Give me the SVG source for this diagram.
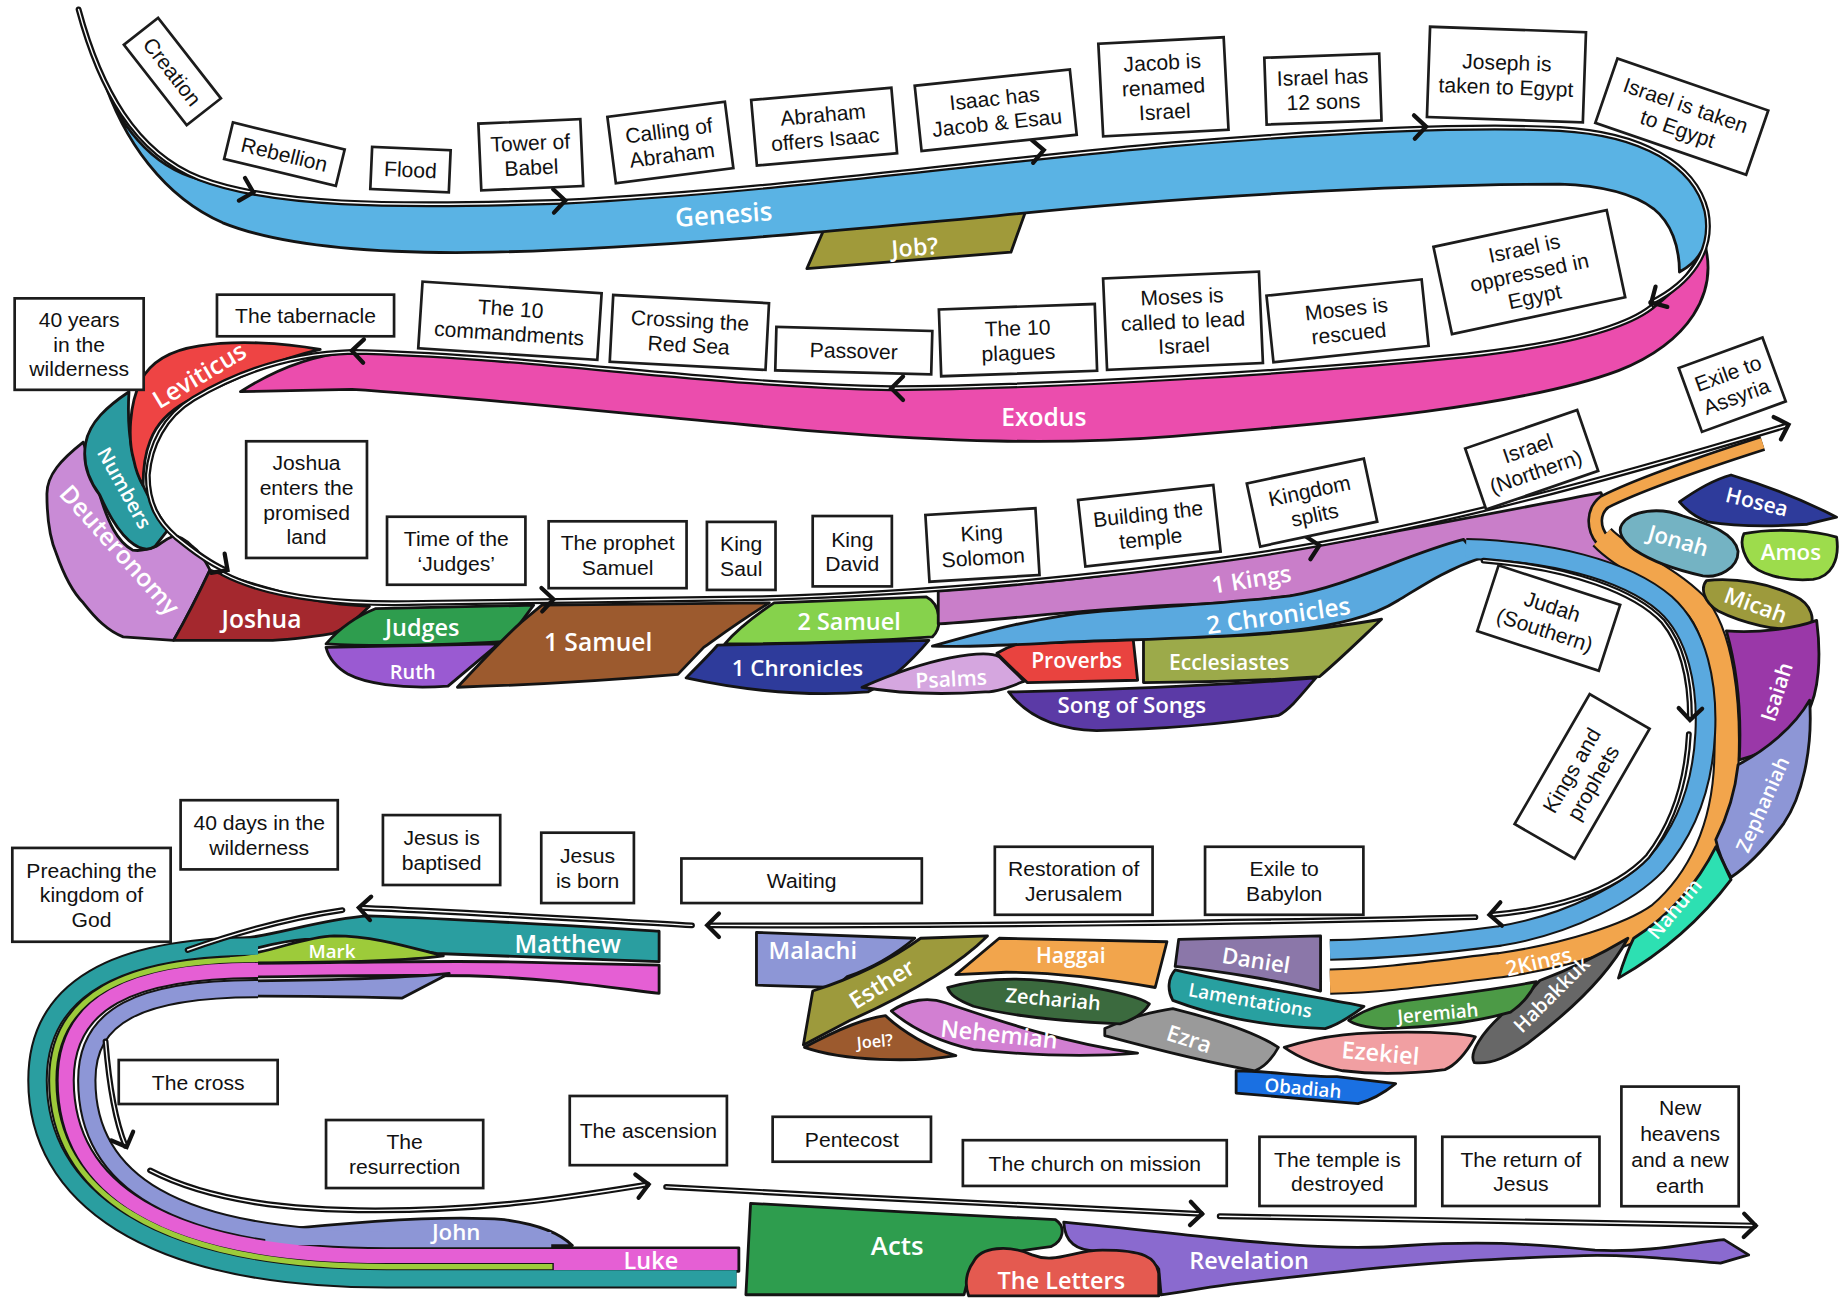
<svg xmlns="http://www.w3.org/2000/svg" width="1839" height="1299" viewBox="0 0 1839 1299">
<defs>
<style>
.box{fill:#fff;stroke:#1c1c1c;stroke-width:2.3}
.bt{font-family:"Liberation Sans",Arial,sans-serif;font-size:18px;fill:#111;text-anchor:middle}
.bk{stroke:#141414;stroke-width:2.4;stroke-linejoin:round}
.lb{font-family:"Open Sans","DejaVu Sans",sans-serif;font-weight:600;fill:#fff;text-anchor:middle}
.tl{fill:none;stroke:#111;stroke-width:5;stroke-linecap:round}
.tw{fill:none;stroke:#fff;stroke-width:1.2;stroke-linecap:round}
.ch{fill:none;stroke:#111;stroke-width:3.6;stroke-linecap:round;stroke-linejoin:miter}
.ab{fill:none;stroke:#141414;stroke-linecap:butt}
.ac{fill:none;stroke-linecap:butt}
</style>
<path id="chev" d="M -10,-10 L 0,0 L -10,10"/>
<path id="L1" d="M 67,8 C 85,75 115,130 170,152 C 230,175 330,177 480,172 C 650,164 850,136 1000,123 C 1120,113 1250,106 1330,110 C 1400,114 1445,140 1455,180 C 1462,215 1440,242 1408,258"/>
<path id="L2" d="M 1408,262 C 1385,280 1330,294 1250,303 C 1100,318 900,330 760,331 C 600,328 450,303 300,300 C 240,302 195,322 165,340 C 140,355 128,380 126,405 C 126,430 135,445 150,458 C 165,470 178,480 192,486"/>
<path id="L3" d="M 190,489 C 230,510 290,516 360,514 C 450,512 560,512 650,510 C 800,506 950,490 1050,476 C 1200,455 1350,415 1523,363"/>
<path id="L4" d="M 1265,478 C 1340,484 1395,505 1418,530 C 1436,552 1441,585 1441,612"/>
<path id="L5" d="M 1440,626 C 1438,665 1428,700 1405,730 C 1375,762 1320,776 1272,780"/>
<path id="L6" d="M 1258,782 C 1100,786 800,790 605,789"/>
<path id="L7" d="M 590,789 C 500,784 400,778 308,774"/>
<path id="L8" d="M 292,776 C 250,782 200,796 160,810"/>
<path id="L9" d="M 90,888 C 93,925 98,955 107,977"/>
<path id="L10" d="M 128,998 C 180,1025 250,1032 320,1032 C 420,1032 490,1020 552,1010"/>
<path id="L11" d="M 568,1012 C 720,1020 900,1030 1024,1035"/>
<path id="L12" d="M 1040,1037 C 1200,1040 1350,1043 1496,1045"/>
</defs>
<rect width="1839" height="1299" fill="#fff"/>
<g transform="scale(1.1728)">

<!-- ============ OLD TESTAMENT BOOKS ============ -->
<g id="exodus">
<path class="bk" fill="#eb4dad" d="M 1453,206 C 1466,250 1440,292 1380,316 C 1300,346 1150,360 1000,372 C 900,380 800,376 700,368 C 550,355 400,338 300,332 L 205,334 C 230,318 262,303 300,300 C 450,303 600,328 760,331 C 900,330 1100,318 1250,303 C 1330,294 1385,280 1410,262 C 1432,245 1446,228 1453,206 Z"/>
<text class="lb" x="890" y="356" dy=".35em" font-size="21">Exodus</text>
</g>
<g id="job">
<path class="bk" fill="#a09a3a" d="M 705,190 L 876,176 L 862,215 L 688,229 Z"/>
<text class="lb" x="780" y="211" dy=".35em" font-size="20" transform="rotate(-4,780,211)">Job?</text>
</g>
<g id="genesis">
<path class="bk" fill="#5ab3e4" d="M 87,64 C 100,105 128,142 170,153 C 230,175 330,177 480,172 C 650,164 850,136 1000,123 C 1120,113 1250,106 1330,110 C 1400,114 1445,140 1455,180 C 1460,205 1450,222 1432,232 C 1432,210 1425,190 1410,178 C 1390,163 1360,158 1330,157 C 1200,157 1000,168 850,184 C 700,198 550,212 420,215 C 320,217 240,210 190,190 C 140,168 105,120 87,64 Z"/>
<text class="lb" x="617" y="183" dy=".35em" font-size="22" transform="rotate(-4,617,183)">Genesis</text>
</g>
<g id="deuteronomy">
<path class="bk" fill="#c98bd6" d="M 71,377 C 52,392 40,405 40,421 C 40,440 42,458 48,472 C 55,492 62,505 71,514 C 82,528 92,538 105,543 L 148,546 C 160,525 170,505 179,486 C 175,478 170,470 164,466 C 158,460 152,457 148,457 C 140,460 137,464 133,466 C 125,469 118,470 113,469 C 100,462 92,445 85,422 C 80,405 76,392 71,377 Z"/>
<text class="lb" x="102" y="469" dy=".35em" font-size="21" transform="rotate(48,102,469)">Deuteronomy</text>
</g>
<g id="numbers">
<path class="bk" fill="#2a9aa0" d="M 110,334 C 92,346 76,360 73,378 C 70,395 76,410 85,422 C 93,440 100,452 110,461 C 118,468 126,470 132,466 L 143,452 C 138,442 130,432 122,414 C 112,392 108,365 110,334 Z"/>
<text class="lb" x="106" y="416" dy=".35em" font-size="17" transform="rotate(61,106,416)">Numbers</text>
</g>
<g id="leviticus">
<path class="bk" fill="#ee4444" d="M 273,298 C 240,292 200,290 170,295 C 150,298 130,305 120,325 C 110,345 109,375 114,392 C 116,402 119,409 122,414 C 122,400 124,386 128,376 C 134,360 145,350 160,342 C 190,328 230,308 273,298 Z"/>
<text class="lb" x="170" y="320" dy=".35em" font-size="21" transform="rotate(-31,170,320)">Leviticus</text>
</g>
<g id="joshua">
<path class="bk" fill="#a4282e" d="M 179,486 C 200,494 230,502 256,509 C 275,514 295,516 315,517 C 302,530 292,537 284,540 C 260,544 240,546 227,546 L 148,546 C 160,525 170,505 179,486 Z"/>
<text class="lb" x="223" y="528" dy=".35em" font-size="21">Joshua</text>
</g>
<g id="ruth">
<path class="bk" fill="#9a5ad2" d="M 278,552 L 425,549 L 382,585 C 340,588 310,582 297,575 C 285,568 280,560 278,552 Z"/>
<text class="lb" x="352" y="573" dy=".35em" font-size="17">Ruth</text>
</g>
<g id="judges">
<path class="bk" fill="#2e9d4e" d="M 320,519 L 455,516 L 432,547 C 380,550 330,552 278,549 C 290,535 305,525 320,519 Z"/>
<text class="lb" x="360" y="535" dy=".35em" font-size="20">Judges</text>
</g>
<g id="samuel1">
<path class="bk" fill="#9c5a2e" d="M 462,516 L 656,514 C 630,530 610,545 600,552 L 578,575 C 520,580 450,584 390,586 C 410,565 428,545 445,530 Z"/>
<text class="lb" x="510" y="548" dy=".35em" font-size="21">1 Samuel</text>
</g>
<g id="chronicles1">
<path class="bk" fill="#2e3b9b" d="M 612,550 L 792,546 C 776,565 760,580 740,590 C 690,594 640,590 585,578 C 595,568 605,558 612,550 Z"/>
<text class="lb" x="680" y="570" dy=".35em" font-size="19">1 Chronicles</text>
</g>
<g id="samuel2">
<path class="bk" fill="#86d24c" d="M 660,514 L 790,509 C 802,515 804,535 795,543 C 740,547 680,549 618,549 C 630,535 645,524 660,514 Z"/>
<text class="lb" x="724" y="530" dy=".35em" font-size="20">2 Samuel</text>
</g>
<g id="kings1">
<path class="bk" fill="#c97ec9" d="M 800,504 C 900,497 980,486 1050,476 C 1150,462 1260,440 1365,420 L 1370,432 C 1358,445 1362,462 1378,474 C 1395,484 1405,490 1412,497 C 1390,490 1330,472 1255,466 C 1225,472 1195,486 1165,496 C 1120,508 1060,514 1000,516 C 920,520 860,528 800,532 Z"/>
<text class="lb" x="1067" y="494" dy=".35em" font-size="20" transform="rotate(-9,1067,494)">1 Kings</text>
</g>
<g id="song">
<path class="bk" fill="#5b3aa6" d="M 860,590 C 950,588 1050,584 1122,578 C 1110,592 1100,605 1090,610 C 1040,618 980,622 935,623 C 900,622 875,610 860,590 Z"/>
<text class="lb" x="965" y="601" dy=".35em" font-size="19">Song of Songs</text>
</g>
<g id="psalms">
<path class="bk" fill="#d5a6df" d="M 735,586 C 760,575 790,565 810,561 C 830,557 845,556 852,560 C 860,568 868,575 873,581 C 860,586 850,590 840,590 C 810,592 770,592 735,586 Z"/>
<text class="lb" x="811" y="579" dy=".35em" font-size="18" transform="rotate(-3,811,579)">Psalms</text>
</g>
<g id="proverbs">
<path class="bk" fill="#e9433f" d="M 850,557 C 865,548 880,545 900,545 L 966,543 L 970,580 L 876,582 C 868,575 858,565 850,557 Z"/>
<text class="lb" x="918" y="563" dy=".35em" font-size="18">Proverbs</text>
</g>
<g id="ecclesiastes">
<path class="bk" fill="#9caa4a" d="M 975,543 C 1050,545 1120,538 1178,528 C 1160,545 1145,560 1125,577 C 1080,580 1030,582 975,582 Z"/>
<text class="lb" x="1048" y="565" dy=".35em" font-size="18">Ecclesiastes</text>
</g>

<!-- 2 Kings (orange) and 2 Chronicles (blue) arcs -->
<g id="kings2">
<path class="ab" stroke-width="13.5" d="M 1503,378 C 1450,395 1400,412 1368,428 C 1358,436 1358,450 1366,460"/>
<path class="ab" stroke-width="22.5" d="M 1366,458 C 1385,478 1420,490 1445,515 C 1468,540 1474,600 1472,650 C 1470,705 1450,750 1415,780 C 1390,798 1335,815 1279,823 C 1220,830 1180,836 1134,837"/>
<path class="ac" stroke="#f2a54c" stroke-width="9" d="M 1503,378 C 1450,395 1400,412 1368,428 C 1358,436 1358,450 1366,460"/>
<path class="ac" stroke="#f2a54c" stroke-width="19" d="M 1366,458 C 1385,478 1420,490 1445,515 C 1468,540 1474,600 1472,650 C 1470,705 1450,750 1415,780 C 1390,798 1335,815 1279,823 C 1220,830 1180,836 1134,837"/>
<text class="lb" x="1312" y="820" dy=".35em" font-size="18" transform="rotate(-13,1312,820)">2Kings</text>
</g>
<g id="chronicles2">
<path class="ab" stroke-width="18.5" d="M 1250,468 C 1320,470 1385,485 1420,515 C 1448,540 1456,585 1454,625 C 1452,665 1440,705 1412,737 C 1390,760 1340,788 1279,798 C 1220,806 1180,809 1134,810"/>
<path class="bk" fill="#5aa9df" d="M 795,551 C 840,538 890,525 940,521 C 1000,517 1060,513 1100,508 C 1150,500 1200,472 1248,460 L 1262,476 C 1232,486 1212,500 1192,512 C 1170,526 1140,533 1100,538 C 1030,545 960,545 900,548 C 860,550 825,552 795,551 Z"/>
<path class="ac" stroke="#5aa9df" stroke-width="15" d="M 1250,468 C 1320,470 1385,485 1420,515 C 1448,540 1456,585 1454,625 C 1452,665 1440,705 1412,737 C 1390,760 1340,788 1279,798 C 1220,806 1180,809 1134,810"/>
<text class="lb" x="1090" y="525" dy=".35em" font-size="21" transform="rotate(-8,1090,525)">2 Chronicles</text>
</g>

<!-- prophets on the right -->
<g id="hosea">
<path class="bk" fill="#2e3b9b" d="M 1432,428 C 1450,415 1465,408 1476,405 C 1506,414 1541,428 1566,441 L 1541,447 C 1511,449 1481,449 1456,445 C 1446,441 1438,435 1432,428 Z"/>
<text class="lb" x="1498" y="428" dy=".35em" font-size="18" transform="rotate(14,1498,428)">Hosea</text>
</g>
<g id="jonah">
<path class="bk" fill="#74b3c3" d="M 1383,447 C 1391,435 1415,432 1435,440 C 1460,448 1479,455 1482,470 C 1482,485 1465,493 1452,491 C 1429,486 1409,479 1394,469 C 1383,461 1379,453 1383,447 Z"/>
<text class="lb" x="1431" y="461" dy=".35em" font-size="19" transform="rotate(16,1431,461)">Jonah</text>
</g>
<g id="amos">
<path class="bk" fill="#9ddc4c" d="M 1487,455 C 1512,450 1547,452 1566,458 C 1569,478 1561,492 1546,494 C 1521,496 1498,489 1491,479 C 1485,469 1484,461 1487,455 Z"/>
<text class="lb" x="1527" y="471" dy=".35em" font-size="19">Amos</text>
</g>
<g id="micah">
<path class="bk" fill="#9d9a3c" d="M 1455,495 C 1480,492 1510,498 1530,508 C 1545,515 1549,530 1541,536 C 1515,539 1485,531 1465,521 C 1452,513 1450,501 1455,495 Z"/>
<text class="lb" x="1497" y="516" dy=".35em" font-size="19" transform="rotate(20,1497,516)">Micah</text>
</g>
<g id="isaiah">
<path class="bk" fill="#9a38a8" d="M 1472,538 C 1500,540 1530,536 1549,529 C 1553,560 1551,590 1541,608 C 1526,630 1506,642 1483,648 C 1485,610 1481,570 1472,538 Z"/>
<text class="lb" x="1515" y="590" dy=".35em" font-size="18" transform="rotate(-72,1515,590)">Isaiah</text>
</g>
<g id="zephaniah">
<path class="bk" fill="#8d96d6" d="M 1482,652 C 1505,640 1530,620 1543,597 C 1546,640 1536,680 1521,702 C 1506,722 1491,738 1476,748 C 1469,736 1465,726 1463,716 C 1471,700 1479,680 1482,652 Z"/>
<text class="lb" x="1503" y="686" dy=".35em" font-size="17" transform="rotate(-66,1503,686)">Zephaniah</text>
</g>
<g id="nahum">
<path class="bk" fill="#2de0b2" d="M 1463,722 C 1468,732 1472,742 1476,750 C 1452,782 1422,810 1380,834 C 1384,821 1388,810 1393,800 C 1424,780 1448,752 1463,722 Z"/>
<text class="lb" x="1428" y="775" dy=".35em" font-size="17" transform="rotate(-50,1428,775)">Nahum</text>
</g>
<g id="habakkuk">
<path class="bk" fill="#676767" d="M 1388,800 C 1372,830 1342,860 1302,890 C 1287,900 1272,908 1257,906 C 1252,898 1264,880 1282,864 C 1298,852 1306,844 1313,836 C 1340,826 1366,813 1388,800 Z"/>
<text class="lb" x="1323" y="848" dy=".35em" font-size="17" transform="rotate(-45,1323,848)">Habakkuk</text>
</g>

<!-- lower OT books -->
<g id="obadiah">
<path class="bk" fill="#1a70e2" d="M 1054,913 C 1080,913 1110,918 1140,918 L 1190,924 C 1180,932 1170,938 1158,941 C 1120,938 1085,935 1054,932 Z"/>
<text class="lb" x="1111" y="928" dy=".35em" font-size="16" transform="rotate(5,1111,928)">Obadiah</text>
</g>
<g id="ezekiel">
<path class="bk" fill="#f19fa2" d="M 1095,893 C 1130,882 1160,880 1200,880 C 1230,880 1250,882 1258,884 C 1250,898 1242,908 1232,912 C 1200,916 1170,916 1145,913 C 1120,908 1105,900 1095,893 Z"/>
<text class="lb" x="1177" y="898" dy=".35em" font-size="20" transform="rotate(5,1177,898)">Ezekiel</text>
</g>
<g id="jeremiah">
<path class="bk" fill="#4c9a46" d="M 1150,870 C 1165,860 1178,856 1200,853 C 1240,848 1280,843 1310,837 C 1305,848 1297,857 1288,863 C 1260,871 1220,876 1180,877 C 1165,876 1155,874 1150,870 Z"/>
<text class="lb" x="1226" y="864" dy=".35em" font-size="16" transform="rotate(-5,1226,864)">Jeremiah</text>
</g>
<g id="ezra">
<path class="bk" fill="#9a9a9a" d="M 942,877 C 962,868 985,862 1000,860 C 1040,870 1070,880 1090,893 C 1085,902 1078,910 1070,913 C 1030,906 990,896 942,883 Z"/>
<text class="lb" x="1014" y="886" dy=".35em" font-size="19" transform="rotate(18,1014,886)">Ezra</text>
</g>
<g id="lamentations">
<path class="bk" fill="#28a0a0" d="M 1002,827 C 1050,838 1100,846 1163,858 C 1150,868 1140,874 1130,877 C 1080,875 1040,868 1000,853 C 995,844 996,834 1002,827 Z"/>
<text class="lb" x="1066" y="853" dy=".35em" font-size="16" transform="rotate(10,1066,853)">Lamentations</text>
</g>
<g id="daniel">
<path class="bk" fill="#8b77a9" d="M 1005,801 L 1126,798 L 1126,845 C 1090,836 1040,828 1002,824 Z"/>
<text class="lb" x="1071" y="819" dy=".35em" font-size="19" transform="rotate(9,1071,819)">Daniel</text>
</g>
<g id="nehemiah">
<path class="bk" fill="#d27fd2" d="M 760,862 C 775,852 792,850 806,855 C 850,870 910,890 970,898 C 920,902 870,899 830,895 C 800,888 776,876 760,862 Z"/>
<text class="lb" x="852" y="882" dy=".35em" font-size="20" transform="rotate(6,852,882)">Nehemiah</text>
</g>
<g id="zechariah">
<path class="bk" fill="#3b6a3e" d="M 808,842 C 840,833 880,833 920,840 C 950,845 972,850 980,856 C 975,864 965,870 955,873 C 910,871 860,866 830,858 C 815,852 810,848 808,842 Z"/>
<text class="lb" x="898" y="852" dy=".35em" font-size="17" transform="rotate(5,898,852)">Zechariah</text>
</g>
<g id="haggai">
<path class="bk" fill="#f2a54c" d="M 852,800 L 995,803 L 985,842 C 940,834 900,829 858,829 L 815,831 Z"/>
<text class="lb" x="913" y="815" dy=".35em" font-size="18">Haggai</text>
</g>
<g id="malachi">
<path class="bk" fill="#8d96d6" d="M 645,795 L 780,800 C 762,815 742,826 722,833 L 712,842 L 645,840 Z"/>
<text class="lb" x="693" y="811" dy=".35em" font-size="20">Malachi</text>
</g>
<g id="esther">
<path class="bk" fill="#9d9a3c" d="M 785,800 L 842,798 C 812,828 765,852 725,870 L 685,891 L 693,845 C 727,834 760,818 785,800 Z"/>
<text class="lb" x="752" y="839" dy=".35em" font-size="20" transform="rotate(-32,752,839)">Esther</text>
</g>
<g id="joel">
<path class="bk" fill="#9c5a2e" d="M 686,893 C 718,876 738,868 755,866 C 770,880 792,893 815,900 C 780,906 720,905 686,893 Z"/>
<text class="lb" x="746" y="888" dy=".35em" font-size="14" transform="rotate(-5,746,888)">Joel?</text>
</g>

<!-- ============ NEW TESTAMENT ============ -->
<g id="gospels">
<g class="ab">
<path stroke-width="17.5" d="M 220,807 C 98,807 32,843 32,921 C 32,1018 123,1090 330,1090 L 628,1090"/>
<path stroke-width="8" d="M 220,818 C 105,818 45,850 45,921 C 45,1014 130,1080 330,1080 L 471,1080"/>
<path stroke-width="15.5" d="M 220,827 C 110,827 56,855 56,921 C 56,1011 135,1071 330,1071 L 628,1071"/>
<path stroke-width="16.5" d="M 220,843 C 118,843 74,866 74,921 C 74,1005 145,1057 330,1057 L 470,1057"/>
</g>
<path class="bk" fill="#2a9ea0" d="M 190,802 C 230,800 270,784 314,781 C 400,784 480,789 562,794 L 562,820 C 500,818 430,815 372,813 C 330,806 290,800 260,801 C 230,803 210,813 190,813 Z"/>
<path class="bk" fill="#9dcb3a" d="M 195,815 C 230,814 255,799 285,798 C 320,798 350,808 378,815 C 350,819 300,821 195,821 Z"/>
<path class="bk" fill="#e55fd4" d="M 195,821.5 C 300,821 400,818 470,821 L 562,823 L 562,847 C 520,842 470,834 400,832 C 300,831 250,833 195,833 Z"/>
<path class="bk" fill="#8d96d6" d="M 195,836.5 C 280,836 345,834 383,830 L 343,851 C 300,850 250,849 195,849.5 Z"/>
<path class="bk" fill="#e55fd4" d="M 471,1064 L 630,1064 L 630,1084 L 471,1084 Z"/>
<path class="bk" fill="#8d96d6" d="M 225,1063 L 225,1050 C 300,1042 380,1036 430,1040 C 460,1044 478,1052 488,1062 Z"/>
<g class="ac">
<path stroke="#2a9ea0" stroke-width="14" d="M 220,807 C 98,807 32,843 32,921 C 32,1018 123,1090 330,1090 L 628,1090"/>
<path stroke="#9dcb3a" stroke-width="4.5" d="M 220,818 C 105,818 45,850 45,921 C 45,1014 130,1080 330,1080 L 471,1080"/>
<path stroke="#e55fd4" stroke-width="12" d="M 220,827 C 110,827 56,855 56,921 C 56,1011 135,1071 330,1071 L 628,1071"/>
<path stroke="#8d96d6" stroke-width="13" d="M 220,843 C 118,843 74,866 74,921 C 74,1005 145,1057 330,1057 L 470,1057"/>
</g>
<g id="matthew"><text class="lb" x="484" y="805" dy=".35em" font-size="21">Matthew</text></g>
<g id="mark"><text class="lb" x="283" y="811" dy=".35em" font-size="16">Mark</text></g>
<g id="john"><text class="lb" x="389" y="1051" dy=".35em" font-size="19">John</text></g>
<g id="luke"><text class="lb" x="555" y="1075" dy=".35em" font-size="20">Luke</text></g>
</g>
<g id="revelation">
<path class="bk" fill="#8a6acf" d="M 907,1042 C 960,1047 1000,1052 1040,1056 C 1100,1062 1150,1066 1200,1062 C 1260,1058 1300,1060 1360,1066 C 1410,1068 1440,1060 1470,1057 L 1491,1070 L 1467,1077 C 1420,1073 1380,1069 1340,1071 C 1280,1073 1240,1075 1200,1079 C 1150,1083 1100,1089 1050,1095 C 1020,1099 1000,1103 990,1104 L 988,1082 C 980,1070 950,1066 935,1067 C 918,1066 908,1060 907,1042 Z"/>
<text class="lb" x="1065" y="1075" dy=".35em" font-size="20">Revelation</text>
</g>
<g id="acts">
<path class="bk" fill="#2e9d4e" d="M 640,1026 C 720,1031 820,1036 900,1040 C 909,1046 907,1058 896,1063 C 862,1067 842,1072 828,1080 L 822,1104 L 636,1104 Z"/>
<text class="lb" x="765" y="1062" dy=".35em" font-size="22">Acts</text>
</g>
<g id="letters">
<path class="bk" fill="#e45a50" d="M 830,1076 C 836,1063 860,1061 880,1070 C 900,1078 915,1066 940,1066 C 975,1066 986,1072 988,1086 L 988,1105 L 826,1105 C 822,1095 824,1084 830,1076 Z"/>
<text class="lb" x="905" y="1092" dy=".35em" font-size="20">The Letters</text>
</g>

<!-- ============ CONNECTORS (timeline) ============ -->
<g id="connectors">
<use href="#L1" class="tl"/><use href="#L1" class="tw"/>
<use href="#L2" class="tl"/><use href="#L2" class="tw"/>
<use href="#L3" class="tl"/><use href="#L3" class="tw"/>
<use href="#L4" class="tl"/><use href="#L4" class="tw"/>
<use href="#L5" class="tl"/><use href="#L5" class="tw"/>
<use href="#L6" class="tl"/><use href="#L6" class="tw"/>
<use href="#L7" class="tl"/><use href="#L7" class="tw"/>
<use href="#L8" class="tl"/><use href="#L8" class="tw"/>
<use href="#L9" class="tl"/><use href="#L9" class="tw"/>
<use href="#L10" class="tl"/><use href="#L10" class="tw"/>
<use href="#L11" class="tl"/><use href="#L11" class="tw"/>
<use href="#L12" class="tl"/><use href="#L12" class="tw"/>
<use href="#chev" class="ch" transform="translate(216,164) rotate(15)"/>
<use href="#chev" class="ch" transform="translate(482,171) rotate(-2)"/>
<use href="#chev" class="ch" transform="translate(890,128) rotate(-5)"/>
<use href="#chev" class="ch" transform="translate(1216,108) rotate(-2)"/>
<use href="#chev" class="ch" transform="translate(1408,258) rotate(150)"/>
<use href="#chev" class="ch" transform="translate(300,299) rotate(182)"/>
<use href="#chev" class="ch" transform="translate(760,331) rotate(180)"/>
<use href="#chev" class="ch" transform="translate(194,486) rotate(35)"/>
<use href="#chev" class="ch" transform="translate(472,511) rotate(-2)"/>
<use href="#chev" class="ch" transform="translate(1125,465) rotate(-12)"/>
<use href="#chev" class="ch" transform="translate(1525,362) rotate(-18)"/>
<use href="#chev" class="ch" transform="translate(1441,614) rotate(92)"/>
<use href="#chev" class="ch" transform="translate(1270,780) rotate(176)"/>
<use href="#chev" class="ch" transform="translate(603,789) rotate(180)"/>
<use href="#chev" class="ch" transform="translate(306,774) rotate(183)"/>
<use href="#chev" class="ch" transform="translate(108,978) rotate(68)"/>
<use href="#chev" class="ch" transform="translate(553,1010) rotate(-8)"/>
<use href="#chev" class="ch" transform="translate(1025,1035) rotate(2)"/>
<use href="#chev" class="ch" transform="translate(1497,1045) rotate(1)"/>
</g>

<!-- ============ EVENT BOXES ============ -->
<g id="e-creation" transform="translate(147,61) rotate(52)"><rect class="box" x="-43.5" y="-18.5" width="87" height="37"/><text class="bt" y="6.5">Creation</text></g>
<g id="e-rebellion" transform="translate(242.5,131.5) rotate(13.6)"><rect class="box" x="-49" y="-16" width="98" height="32"/><text class="bt" y="6.5">Rebellion</text></g>
<g id="e-flood" transform="translate(350,144.6) rotate(2.5)"><rect class="box" x="-33.5" y="-18" width="67" height="36"/><text class="bt" y="6.5">Flood</text></g>
<g id="e-babel" transform="translate(452.6,132) rotate(-2.5)"><rect class="box" x="-43.5" y="-28.5" width="87" height="57"/><text class="bt"><tspan x="0" y="-4">Tower of</tspan><tspan x="0" y="17">Babel</tspan></text></g>
<g id="e-calling" transform="translate(571.6,121.5) rotate(-7.3)"><rect class="box" x="-50.5" y="-28.5" width="101" height="57"/><text class="bt"><tspan x="0" y="-4">Calling of</tspan><tspan x="0" y="17">Abraham</tspan></text></g>
<g id="e-offers" transform="translate(702.7,108) rotate(-5)"><rect class="box" x="-60" y="-28" width="120" height="56"/><text class="bt"><tspan x="0" y="-4">Abraham</tspan><tspan x="0" y="17">offers Isaac</tspan></text></g>
<g id="e-isaac" transform="translate(849,94) rotate(-6)"><rect class="box" x="-66.5" y="-28" width="133" height="56"/><text class="bt"><tspan x="0" y="-4">Isaac has</tspan><tspan x="0" y="17">Jacob &amp; Esau</tspan></text></g>
<g id="e-jacob" transform="translate(992,74) rotate(-3)"><rect class="box" x="-53.5" y="-39.5" width="107" height="79"/><text class="bt"><tspan x="0" y="-14.5">Jacob is</tspan><tspan x="0" y="6.5">renamed</tspan><tspan x="0" y="27.5">Israel</tspan></text></g>
<g id="e-sons" transform="translate(1128,76) rotate(-2)"><rect class="box" x="-49" y="-28.5" width="98" height="57"/><text class="bt"><tspan x="0" y="-4">Israel has</tspan><tspan x="0" y="17">12 sons</tspan></text></g>
<g id="e-joseph" transform="translate(1284.5,63.6) rotate(2)"><rect class="box" x="-66.5" y="-38.5" width="133" height="77"/><text class="bt"><tspan x="0" y="-4">Joseph is</tspan><tspan x="0" y="17">taken to Egypt</tspan></text></g>
<g id="e-taken" transform="translate(1434,99.5) rotate(19)"><rect class="box" x="-68" y="-29" width="136" height="58"/><text class="bt"><tspan x="0" y="-4">Israel is taken</tspan><tspan x="0" y="17">to Egypt</tspan></text></g>
<g id="e-40years" transform="translate(67.5,293.4)"><rect class="box" x="-55" y="-39" width="110" height="78"/><text class="bt"><tspan x="0" y="-14.5">40 years</tspan><tspan x="0" y="6.5">in the</tspan><tspan x="0" y="27.5">wilderness</tspan></text></g>
<g id="e-tabernacle" transform="translate(260.5,269)"><rect class="box" x="-75.5" y="-17.75" width="151" height="35.5"/><text class="bt" y="6.5">The tabernacle</text></g>
<g id="e-commandments" transform="translate(434.8,273.5) rotate(3.7)"><rect class="box" x="-76.5" y="-28.5" width="153" height="57"/><text class="bt"><tspan x="0" y="-4">The 10</tspan><tspan x="0" y="17">commandments</tspan></text></g>
<g id="e-redsea" transform="translate(587.8,283.5) rotate(3)"><rect class="box" x="-66.5" y="-28.5" width="133" height="57"/><text class="bt"><tspan x="0" y="-4">Crossing the</tspan><tspan x="0" y="17">Red Sea</tspan></text></g>
<g id="e-passover" transform="translate(728,299) rotate(1.5)"><rect class="box" x="-66.5" y="-18.5" width="133" height="37"/><text class="bt" y="6.5">Passover</text></g>
<g id="e-plagues" transform="translate(868,290) rotate(-2)"><rect class="box" x="-66.5" y="-28.5" width="133" height="57"/><text class="bt"><tspan x="0" y="-4">The 10</tspan><tspan x="0" y="17">plagues</tspan></text></g>
<g id="e-moses-called" transform="translate(1008.7,273.5) rotate(-2.5)"><rect class="box" x="-66.5" y="-39" width="133" height="78"/><text class="bt"><tspan x="0" y="-14.5">Moses is</tspan><tspan x="0" y="6.5">called to lead</tspan><tspan x="0" y="27.5">Israel</tspan></text></g>
<g id="e-moses-rescued" transform="translate(1149,273.5) rotate(-6)"><rect class="box" x="-66.5" y="-28.5" width="133" height="57"/><text class="bt"><tspan x="0" y="-4">Moses is</tspan><tspan x="0" y="17">rescued</tspan></text></g>
<g id="e-oppressed" transform="translate(1304,232) rotate(-12)"><rect class="box" x="-75.5" y="-38" width="151" height="76"/><text class="bt"><tspan x="0" y="-14.5">Israel is</tspan><tspan x="0" y="6.5">oppressed in</tspan><tspan x="0" y="27.5">Egypt</tspan></text></g>
<g id="e-assyria" transform="translate(1477,328) rotate(-20)"><rect class="box" x="-38" y="-29" width="76" height="58"/><text class="bt"><tspan x="0" y="-4">Exile to</tspan><tspan x="0" y="17">Assyria</tspan></text></g>
<g id="e-promised" transform="translate(261.4,426)"><rect class="box" x="-51.5" y="-49.75" width="103" height="99.5"/><text class="bt"><tspan x="0" y="-25">Joshua</tspan><tspan x="0" y="-4">enters the</tspan><tspan x="0" y="17">promised</tspan><tspan x="0" y="38">land</tspan></text></g>
<g id="e-judges" transform="translate(389,469.6)"><rect class="box" x="-59" y="-29" width="118" height="58"/><text class="bt"><tspan x="0" y="-4">Time of the</tspan><tspan x="0" y="17">‘Judges’</tspan></text></g>
<g id="e-samuel" transform="translate(526.6,473)"><rect class="box" x="-58.8" y="-28.5" width="117.6" height="57"/><text class="bt"><tspan x="0" y="-4">The prophet</tspan><tspan x="0" y="17">Samuel</tspan></text></g>
<g id="e-saul" transform="translate(632,474)"><rect class="box" x="-29.25" y="-29" width="58.5" height="58"/><text class="bt"><tspan x="0" y="-4">King</tspan><tspan x="0" y="17">Saul</tspan></text></g>
<g id="e-david" transform="translate(726.7,470)"><rect class="box" x="-33.75" y="-30" width="67.5" height="60"/><text class="bt"><tspan x="0" y="-4">King</tspan><tspan x="0" y="17">David</tspan></text></g>
<g id="e-solomon" transform="translate(837.7,464.7) rotate(-3.5)"><rect class="box" x="-47" y="-28.5" width="94" height="57"/><text class="bt"><tspan x="0" y="-4">King</tspan><tspan x="0" y="17">Solomon</tspan></text></g>
<g id="e-temple" transform="translate(980,448.3) rotate(-6.3)"><rect class="box" x="-58" y="-28.5" width="116" height="57"/><text class="bt"><tspan x="0" y="-4">Building the</tspan><tspan x="0" y="17">temple</tspan></text></g>
<g id="e-splits" transform="translate(1118.7,428.5) rotate(-12)"><rect class="box" x="-51" y="-27.5" width="102" height="55"/><text class="bt"><tspan x="0" y="-4">Kingdom</tspan><tspan x="0" y="17">splits</tspan></text></g>
<g id="e-northern" transform="translate(1306,392) rotate(-19)"><rect class="box" x="-50.5" y="-27.5" width="101" height="55"/><text class="bt"><tspan x="0" y="-4">Israel</tspan><tspan x="0" y="17">(Northern)</tspan></text></g>
<g id="e-southern" transform="translate(1320.5,527) rotate(18)"><rect class="box" x="-54.5" y="-29.5" width="109" height="59"/><text class="bt"><tspan x="0" y="-4">Judah</tspan><tspan x="0" y="17">(Southern)</tspan></text></g>
<g id="e-kings-prophets" transform="translate(1349,662) rotate(-60)"><rect class="box" x="-64" y="-29.5" width="128" height="59"/><text class="bt"><tspan x="0" y="-4">Kings and</tspan><tspan x="0" y="17">prophets</tspan></text></g>
<g id="e-preaching" transform="translate(78,763)"><rect class="box" x="-67.5" y="-40" width="135" height="80"/><text class="bt"><tspan x="0" y="-14.5">Preaching the</tspan><tspan x="0" y="6.5">kingdom of</tspan><tspan x="0" y="27.5">God</tspan></text></g>
<g id="e-40days" transform="translate(221,711.8)"><rect class="box" x="-67" y="-29.5" width="134" height="59"/><text class="bt"><tspan x="0" y="-4">40 days in the</tspan><tspan x="0" y="17">wilderness</tspan></text></g>
<g id="e-baptised" transform="translate(376.5,724.8)"><rect class="box" x="-50" y="-29.8" width="100" height="59.6"/><text class="bt"><tspan x="0" y="-4">Jesus is</tspan><tspan x="0" y="17">baptised</tspan></text></g>
<g id="e-born" transform="translate(501,740)"><rect class="box" x="-39.5" y="-30" width="79" height="60"/><text class="bt"><tspan x="0" y="-4">Jesus</tspan><tspan x="0" y="17">is born</tspan></text></g>
<g id="e-waiting" transform="translate(683.5,751)"><rect class="box" x="-102.5" y="-19" width="205" height="38"/><text class="bt" y="6.5">Waiting</text></g>
<g id="e-restoration" transform="translate(915.5,751)"><rect class="box" x="-67.25" y="-29" width="134.5" height="58"/><text class="bt"><tspan x="0" y="-4">Restoration of</tspan><tspan x="0" y="17">Jerusalem</tspan></text></g>
<g id="e-babylon" transform="translate(1095,751)"><rect class="box" x="-67.5" y="-29" width="135" height="58"/><text class="bt"><tspan x="0" y="-4">Exile to</tspan><tspan x="0" y="17">Babylon</tspan></text></g>
<g id="e-cross" transform="translate(169,922.6)"><rect class="box" x="-67.75" y="-18.75" width="135.5" height="37.5"/><text class="bt" y="6.5">The cross</text></g>
<g id="e-resurrection" transform="translate(345,984)"><rect class="box" x="-67" y="-29" width="134" height="58"/><text class="bt"><tspan x="0" y="-4">The</tspan><tspan x="0" y="17">resurrection</tspan></text></g>
<g id="e-ascension" transform="translate(552.8,964)"><rect class="box" x="-67" y="-29.5" width="134" height="59"/><text class="bt" y="6.5">The ascension</text></g>
<g id="e-pentecost" transform="translate(726.3,971.4)"><rect class="box" x="-67.5" y="-19.15" width="135" height="38.3"/><text class="bt" y="6.5">Pentecost</text></g>
<g id="e-mission" transform="translate(933.5,991.7)"><rect class="box" x="-112.5" y="-19.5" width="225" height="39"/><text class="bt" y="6.5">The church on mission</text></g>
<g id="e-destroyed" transform="translate(1140.4,998.8)"><rect class="box" x="-66.5" y="-29.5" width="133" height="59"/><text class="bt"><tspan x="0" y="-4">The temple is</tspan><tspan x="0" y="17">destroyed</tspan></text></g>
<g id="e-return" transform="translate(1296.8,998.8)"><rect class="box" x="-67" y="-29.5" width="134" height="59"/><text class="bt"><tspan x="0" y="-4">The return of</tspan><tspan x="0" y="17">Jesus</tspan></text></g>
<g id="e-newearth" transform="translate(1432.5,977.5)"><rect class="box" x="-50" y="-51" width="100" height="102"/><text class="bt"><tspan x="0" y="-26.5">New</tspan><tspan x="0" y="-4.5">heavens</tspan><tspan x="0" y="17.5">and a new</tspan><tspan x="0" y="39.5">earth</tspan></text></g>

</g>
</svg>
